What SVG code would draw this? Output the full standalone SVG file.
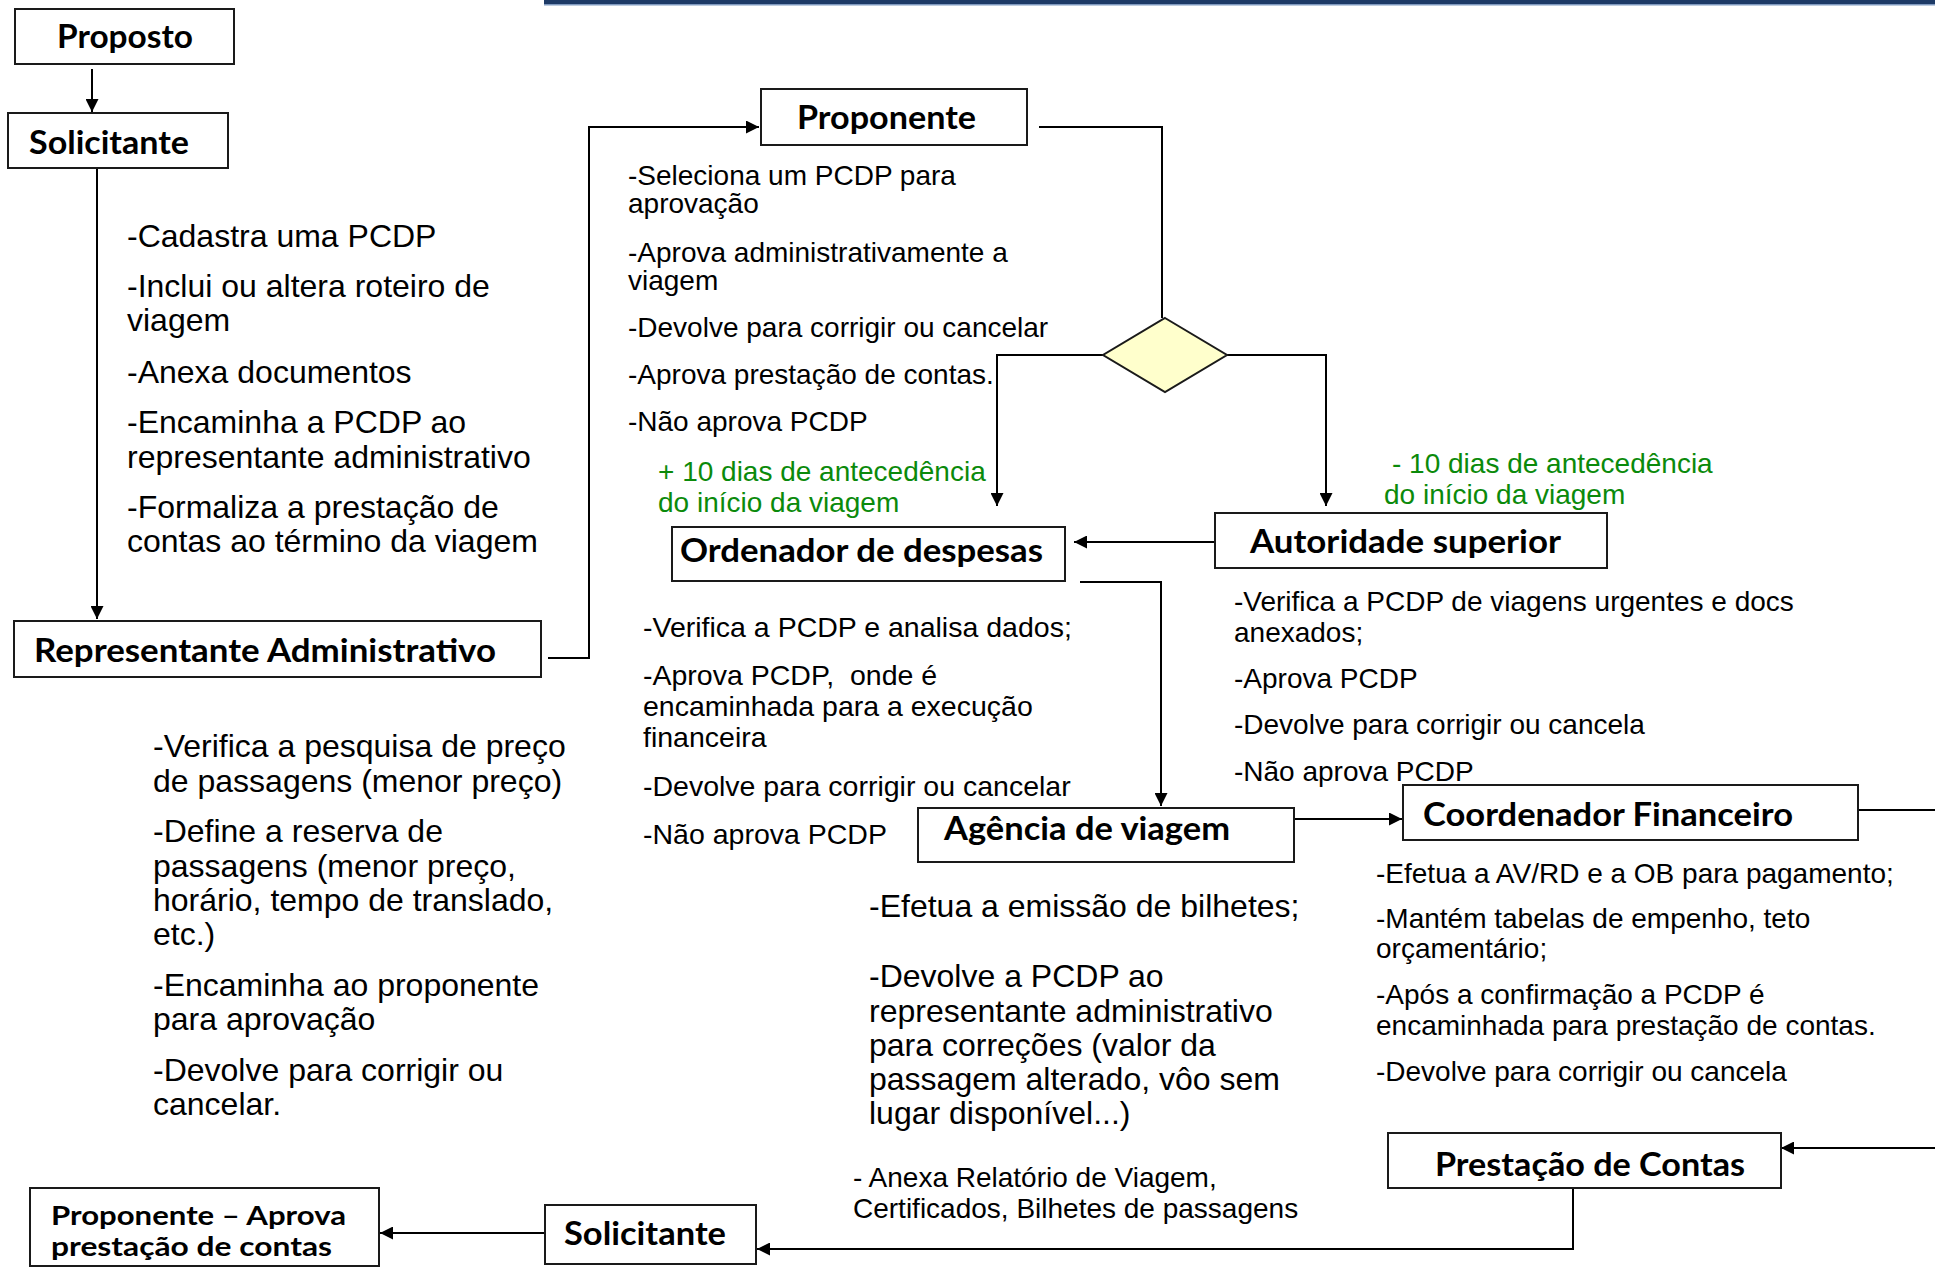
<svg xmlns="http://www.w3.org/2000/svg" width="1935" height="1268" viewBox="0 0 1935 1268">
<defs>
<marker id="ah" viewBox="0 0 10 10" refX="10" refY="5" markerUnits="userSpaceOnUse" markerWidth="14" markerHeight="13" orient="auto">
<path d="M0,0 L10,5 L0,10 z" fill="#000"/>
</marker>
<style>
.box{fill:#fff;stroke:#1a1a1a;stroke-width:2}
.h{font-family:Lato,"Liberation Sans",sans-serif;font-weight:700;font-size:33px;fill:#000}
.hs{font-family:Lato,"Liberation Sans",sans-serif;font-weight:700;font-size:27px;fill:#000}
.t32{font-family:"Liberation Sans",Arial,sans-serif;font-size:32px;fill:#000}
.t28{font-family:"Liberation Sans",Arial,sans-serif;font-size:28px;fill:#000}
.t29{font-family:"Liberation Sans",Arial,sans-serif;font-size:28.5px;fill:#000}
.g{font-family:"Liberation Sans",Arial,sans-serif;font-size:28px;fill:#0b8a0b}
.c{fill:none;stroke:#000;stroke-width:2;marker-end:url(#ah)}
.cn{fill:none;stroke:#000;stroke-width:2}
</style>
</defs>
<rect x="0" y="0" width="1935" height="1268" fill="#fff"/>
<rect x="544" y="0" width="1391" height="4" fill="#1d3a66"/>
<rect x="544" y="4" width="1391" height="1.5" fill="#7f99bf"/>

<g id="connectors">
<path class="c" d="M92,69 V112"/>
<path class="c" d="M97,168 V619"/>
<path class="c" d="M548,658 H589 V127 H759"/>
<path class="cn" d="M1039,127 H1162 V318"/>
<path class="c" d="M1103,355 H997 V506"/>
<path class="c" d="M1227,355 H1326 V506"/>
<path class="c" d="M1215,542 H1074"/>
<path class="c" d="M1080,582 H1161 V806"/>
<path class="c" d="M1294,819 H1402"/>
<path class="cn" d="M1858,810 H1935"/>
<path class="c" d="M1935,1148 H1781"/>
<path class="c" d="M1573,1188 V1249 H757"/>
<path class="c" d="M545,1233 H380"/>
</g>

<g id="proposto">
<rect class="box" x="15" y="9" width="219" height="55"/>
<text class="h" x="57" y="48" textLength="136" lengthAdjust="spacingAndGlyphs">Proposto</text>
</g>

<g id="solicitante">
<rect class="box" x="8" y="113" width="220" height="55"/>
<text class="h" x="29" y="154" textLength="160" lengthAdjust="spacingAndGlyphs">Solicitante</text>
<text class="t32" x="127"><tspan x="127" y="247">-Cadastra uma PCDP</tspan><tspan x="127" y="297">-Inclui ou altera roteiro de</tspan><tspan x="127" y="331">viagem</tspan><tspan x="127" y="383">-Anexa documentos</tspan><tspan x="127" y="433">-Encaminha a PCDP ao</tspan><tspan x="127" y="468">representante administrativo</tspan><tspan x="127" y="518">-Formaliza a prestação de</tspan><tspan x="127" y="552">contas ao término da viagem</tspan></text>
</g>

<g id="representante">
<rect class="box" x="14" y="621" width="527" height="56"/>
<text class="h" x="34" y="662" textLength="462" lengthAdjust="spacingAndGlyphs">Representante Administrativo</text>
<text class="t32"><tspan x="153" y="757">-Verifica a pesquisa de preço</tspan><tspan x="153" y="792">de passagens (menor preço)</tspan><tspan x="153" y="842">-Define a reserva de</tspan><tspan x="153" y="877">passagens (menor preço,</tspan><tspan x="153" y="911">horário, tempo de translado,</tspan><tspan x="153" y="945">etc.)</tspan><tspan x="153" y="996">-Encaminha ao proponente</tspan><tspan x="153" y="1030">para aprovação</tspan><tspan x="153" y="1081">-Devolve para corrigir ou</tspan><tspan x="153" y="1115">cancelar.</tspan></text>
</g>

<g id="proponente">
<rect class="box" x="761" y="89" width="266" height="56"/>
<text class="h" x="797" y="129" textLength="179" lengthAdjust="spacingAndGlyphs">Proponente</text>
<text class="t28"><tspan x="628" y="185">-Seleciona um PCDP para</tspan><tspan x="628" y="213">aprovação</tspan><tspan x="628" y="262">-Aprova administrativamente a</tspan><tspan x="628" y="290">viagem</tspan><tspan x="628" y="337">-Devolve para corrigir ou cancelar</tspan><tspan x="628" y="384">-Aprova prestação de contas.</tspan><tspan x="628" y="431">-Não aprova PCDP</tspan></text>
</g>

<g id="decisao">
<polygon points="1165,318 1227,355 1165,392 1103,355" fill="#ffffcc" stroke="#1a1a1a" stroke-width="2"/>
</g>

<g id="prazo-mais">
<text class="g"><tspan x="658" y="481">+ 10 dias de antecedência</tspan><tspan x="658" y="512">do início da viagem</tspan></text>
</g>

<g id="prazo-menos">
<text class="g"><tspan x="1392" y="473">- 10 dias de antecedência</tspan><tspan x="1384" y="504">do início da viagem</tspan></text>
</g>

<g id="ordenador">
<rect class="box" x="672" y="527" width="393" height="54"/>
<text class="h" x="680" y="562" textLength="363" lengthAdjust="spacingAndGlyphs">Ordenador de despesas</text>
<text class="t29"><tspan x="643" y="637">-Verifica a PCDP e analisa dados;</tspan><tspan x="643" y="685">-Aprova PCDP,&#160; onde é</tspan><tspan x="643" y="716">encaminhada para a execução</tspan><tspan x="643" y="747">financeira</tspan><tspan x="643" y="796">-Devolve para corrigir ou cancelar</tspan><tspan x="643" y="844">-Não aprova PCDP</tspan></text>
</g>

<g id="autoridade">
<rect class="box" x="1215" y="513" width="392" height="55"/>
<text class="h" x="1250" y="553" textLength="311" lengthAdjust="spacingAndGlyphs">Autoridade superior</text>
<text class="t28"><tspan x="1234" y="611">-Verifica a PCDP de viagens urgentes e docs</tspan><tspan x="1234" y="642">anexados;</tspan><tspan x="1234" y="688">-Aprova PCDP</tspan><tspan x="1234" y="734">-Devolve para corrigir ou cancela</tspan><tspan x="1234" y="781">-Não aprova PCDP</tspan></text>
</g>

<g id="agencia">
<rect class="box" x="918" y="808" width="376" height="54"/>
<text class="h" x="944" y="840" textLength="286" lengthAdjust="spacingAndGlyphs">Agência de viagem</text>
<text class="t32"><tspan x="869" y="917">-Efetua a emissão de bilhetes;</tspan><tspan x="869" y="987">-Devolve a PCDP ao</tspan><tspan x="869" y="1022">representante administrativo</tspan><tspan x="869" y="1056">para correções (valor da</tspan><tspan x="869" y="1090">passagem alterado, vôo sem</tspan><tspan x="869" y="1124">lugar disponível...)</tspan></text>
<text class="t28"><tspan x="853" y="1187">- Anexa Relatório de Viagem,</tspan><tspan x="853" y="1218">Certificados, Bilhetes de passagens</tspan></text>
</g>

<g id="coordenador">
<rect class="box" x="1403" y="785" width="455" height="55"/>
<text class="h" x="1423" y="826" textLength="370" lengthAdjust="spacingAndGlyphs">Coordenador Financeiro</text>
<text class="t28"><tspan x="1376" y="883">-Efetua a AV/RD e a OB para pagamento;</tspan><tspan x="1376" y="928">-Mantém tabelas de empenho, teto</tspan><tspan x="1376" y="958">orçamentário;</tspan><tspan x="1376" y="1004">-Após a confirmação a PCDP é</tspan><tspan x="1376" y="1035">encaminhada para prestação de contas.</tspan><tspan x="1376" y="1081">-Devolve para corrigir ou cancela</tspan></text>
</g>

<g id="prestacao">
<rect class="box" x="1388" y="1133" width="393" height="55"/>
<text class="h" x="1435" y="1176" textLength="310" lengthAdjust="spacingAndGlyphs">Prestação de Contas</text>
</g>

<g id="solicitante-final">
<rect class="box" x="545" y="1205" width="211" height="59"/>
<text class="h" x="564" y="1245" textLength="162" lengthAdjust="spacingAndGlyphs">Solicitante</text>
</g>

<g id="proponente-aprova">
<rect class="box" x="30" y="1188" width="349" height="78"/>
<text class="hs"><tspan x="51" y="1225" textLength="295" lengthAdjust="spacingAndGlyphs">Proponente – Aprova</tspan><tspan x="51" y="1256" textLength="281" lengthAdjust="spacingAndGlyphs">prestação de contas</tspan></text>
</g>
</svg>
